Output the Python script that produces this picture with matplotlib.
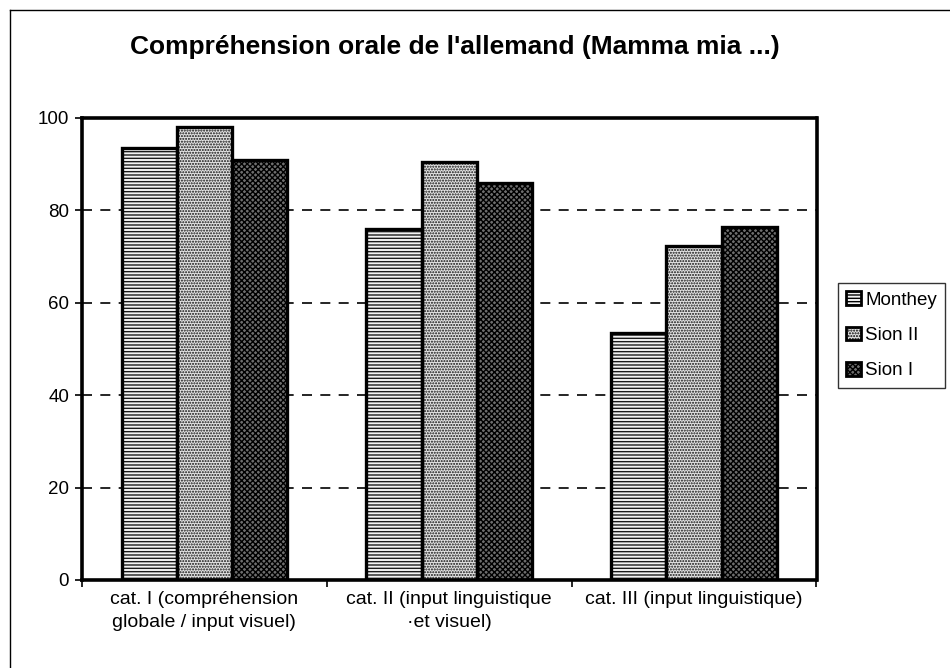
import matplotlib
matplotlib.use("Agg")
import matplotlib.pyplot as plt
from matplotlib.patches import Patch
from matplotlib.lines import Line2D
import numpy as np

title = "Compréhension orale de l'allemand (Mamma mia ...)"
categories = ["cat. I (compréhension\nglobale / input visuel)",
              "cat. II (input linguistique\n·et visuel)",
              "cat. III (input linguistique)"]
series_names = ["Monthey", "Sion II", "Sion I"]
monthey = [93.5, 76.0, 53.5]
sion2 = [98.0, 90.5, 72.2]
sion1 = [91.0, 86.0, 76.5]
yticks = [0, 20, 40, 60, 80, 100]

plt.rcParams['font.family'] = ['Liberation Sans', 'DejaVu Sans']
plt.rcParams['hatch.linewidth'] = 1.0

fig = plt.figure(figsize=(9.5, 6.68), dpi=100)
W, H = 950, 668
ax = fig.add_axes([81.7 / W, 1 - 580 / H, (816.5 - 81.7) / W, (580 - 118) / H])

styles = [
    dict(facecolor="#f2f2f2", hatch_color="#1a1a1a", hatch="-----"),
    dict(facecolor="#e4e4e4", hatch_color="#111111", hatch="......"),
    dict(facecolor="#6e6e6e", hatch_color="#000000", hatch="xxxxxx"),
]
data = [monthey, sion2, sion1]
x = np.arange(len(categories))
bw = 0.225
for i, (vals, st) in enumerate(zip(data, styles)):
    xs = x + (i - 1) * bw
    ax.bar(xs, vals, bw, facecolor=st["facecolor"], edgecolor=st["hatch_color"],
           hatch=st["hatch"], linewidth=0, zorder=2)
    ax.bar(xs, vals, bw, fill=False, edgecolor="black", linewidth=2.4, zorder=3)

ax.set_xlim(-0.5, 2.5)
ax.set_ylim(0, 100)
ax.set_yticks(yticks)
ax.set_yticklabels([str(v) for v in yticks], fontsize=13.5)
for v in yticks[1:-1]:
    ax.axhline(v, color="black", lw=1.2, ls=(0, (6, 5)), zorder=1)

ax.set_xticks([-0.5, 0.5, 1.5, 2.5])
ax.set_xticklabels([])
ax.tick_params(axis="x", direction="out", length=5, width=1.2)
ax.tick_params(axis="y", direction="out", length=5, width=1.2, pad=4)
for xi, lab in zip(x, categories):
    ax.text(xi, -2.4, lab, ha="center", va="top", fontsize=14,
            linespacing=1.45, transform=ax.transData)
for sp in ax.spines.values():
    sp.set_linewidth(2.6)
    sp.set_color("black")

fig.text(455 / W, 1 - 47 / H, title, ha="center", va="center",
         fontsize=19, fontweight="bold")

# outer frame (top and left edges visible)
fig.add_artist(Line2D([10 / W, 1.0], [1 - 10 / H, 1 - 10 / H], color="black",
                      lw=1.0, transform=fig.transFigure))
fig.add_artist(Line2D([10 / W, 10 / W], [1 - 10 / H, 0.0], color="black",
                      lw=1.0, transform=fig.transFigure))

handles = [Patch(facecolor=st["facecolor"], edgecolor="black", hatch=st["hatch"],
                 linewidth=2.0) for st in styles]
leg = fig.legend(handles, series_names, loc="upper left",
                 bbox_to_anchor=(838 / W, 1 - 283 / H), fontsize=13.5,
                 frameon=True, fancybox=False, shadow=False,
                 handlelength=0.75, handleheight=0.75, handletextpad=0.25,
                 labelspacing=0.95, borderpad=0.45, borderaxespad=0)
leg.get_frame().set_edgecolor("black")
leg.get_frame().set_linewidth(1.0)

fig.savefig("out.png", dpi=100)
